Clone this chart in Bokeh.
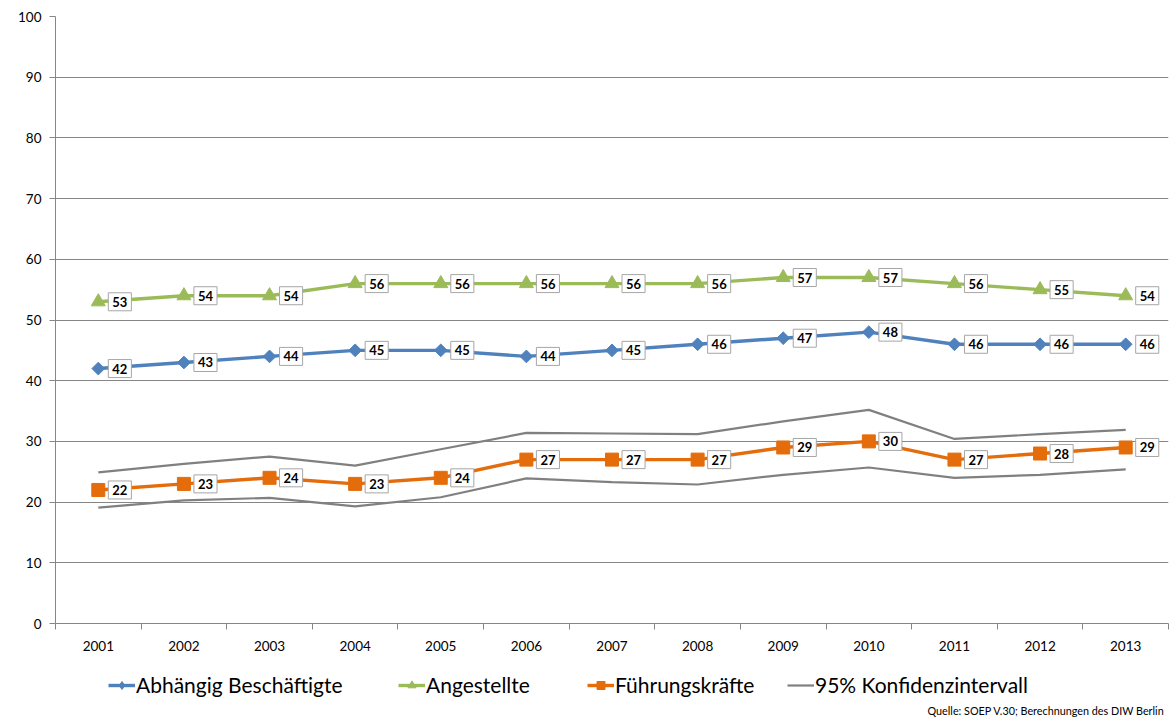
from bokeh.plotting import figure
from bokeh.layouts import column
from bokeh.models import (ColumnDataSource, Legend, LegendItem, Label,
                          FixedTicker, Range1d)
from bokeh.core.properties import value
from bokeh.embed import file_html
from bokeh.resources import INLINE

years = ["2001", "2002", "2003", "2004", "2005", "2006", "2007",
         "2008", "2009", "2010", "2011", "2012", "2013"]
abhaengig = [42, 43, 44, 45, 45, 44, 45, 46, 47, 48, 46, 46, 46]
angestellte = [53, 54, 54, 56, 56, 56, 56, 56, 57, 57, 56, 55, 54]
fuehrung = [22, 23, 24, 23, 24, 27, 27, 27, 29, 30, 27, 28, 29]
ki_upper = [24.9, 26.3, 27.5, 26.0, 28.7, 31.4, 31.3, 31.2, 33.3, 35.2, 30.4, 31.2, 31.9]
ki_lower = [19.1, 20.3, 20.7, 19.3, 20.8, 23.9, 23.3, 22.9, 24.5, 25.7, 24.0, 24.5, 25.4]
y_ticks = [0, 10, 20, 30, 40, 50, 60, 70, 80, 90, 100]
series_names = ["Abhängig Beschäftigte", "Angestellte", "Führungskräfte",
                "95% Konfidenzintervall"]
source_text = "Quelle: SOEP V.30; Berechnungen des DIW Berlin"

FONT = "Lato"
BLUE = "#4F81BD"
GREEN = "#9BBB59"
ORANGE = "#E46C0A"
GREY = "#808080"
GRID = "#868686"

idx = list(range(1, len(years) + 1))

p = figure(frame_width=1113, frame_height=607,
           x_range=Range1d(0.5, len(years) + 0.5),
           y_range=Range1d(0, 100), output_backend="svg", toolbar_location=None,
           min_border_left=55, min_border_right=5, min_border_top=16,
           min_border_bottom=35)
p.outline_line_color = None
p.background_fill_color = "white"
p.border_fill_color = "white"

# axes
p.yaxis.ticker = FixedTicker(ticks=y_ticks)
p.yaxis.major_tick_out = 6
p.yaxis.major_tick_in = 0
p.yaxis.minor_tick_out = 0
p.yaxis.minor_tick_in = 0
p.yaxis.axis_line_color = GRID
p.yaxis.major_tick_line_color = GRID
p.yaxis.major_label_text_font = FONT
p.yaxis.major_label_text_font_size = "13.5px"
p.yaxis.major_label_text_color = "black"
p.yaxis.major_label_standoff = 8

p.xaxis.ticker = FixedTicker(ticks=idx, minor_ticks=[i + 0.5 for i in range(len(years) + 1)])
p.xaxis.major_label_overrides = {i: y for i, y in zip(idx, years)}
p.xaxis.major_tick_out = 0
p.xaxis.major_tick_in = 0
p.xaxis.minor_tick_out = 6
p.xaxis.minor_tick_in = 0
p.xaxis.axis_line_color = GRID
p.xaxis.minor_tick_line_color = GRID
p.xaxis.major_label_text_font = FONT
p.xaxis.major_label_text_font_size = "13.5px"
p.xaxis.major_label_text_color = "black"
p.xaxis.major_label_standoff = 11

p.xgrid.visible = False
p.ygrid.ticker = FixedTicker(ticks=y_ticks)
p.ygrid.grid_line_color = GRID
p.ygrid.grid_line_width = 1.2


def draw_series(fig, vals, color, marker, size, angle, visible=True):
    ln = fig.line(idx, vals, line_color=color, line_width=3.4, visible=visible)
    mk = fig.scatter(idx, vals, marker=marker, angle=angle, size=size,
                     fill_color=color, line_color=color, visible=visible)
    return ln, mk


# confidence interval
p.line(idx, ki_upper, line_color=GREY, line_width=2.2)
p.line(idx, ki_lower, line_color=GREY, line_width=2.2)

# series
draw_series(p, abhaengig, BLUE, "square", 9, 0.785398)
draw_series(p, angestellte, GREEN, "triangle", 14, 0.0)
draw_series(p, fuehrung, ORANGE, "square", 13, 0.0)

for vals in (abhaengig, angestellte, fuehrung):
    src = ColumnDataSource(dict(x=idx, y=vals, t=[str(v) for v in vals]))
    p.text(x="x", y="y", text="t", source=src,
           x_offset=10, y_offset=0,
           text_align="left", text_baseline="middle",
           text_font=value(FONT), text_font_style="bold",
           text_font_size="13px", text_color="black",
           background_fill_color="white",
           border_line_color="#A6A6A6", border_line_width=1,
           padding=4)

# legend strip below the chart (hidden copies of the series feed the legend)
q = figure(frame_width=1173, frame_height=60, x_range=Range1d(0.5, len(years) + 0.5),
           y_range=Range1d(0, 100), output_backend="svg", toolbar_location=None,
           min_border_left=0, min_border_right=0, min_border_top=0,
           min_border_bottom=0)
q.axis.visible = False
q.grid.visible = False
q.outline_line_color = None
q.background_fill_color = "white"
q.border_fill_color = "white"

lb1, mb1 = draw_series(q, abhaengig, BLUE, "diamond", 15, 0.0, visible=False)
lg1, mg1 = draw_series(q, angestellte, GREEN, "triangle", 13, 0.0, visible=False)
lo1, mo1 = draw_series(q, fuehrung, ORANGE, "square", 12, 0.0, visible=False)
lc1 = q.line(idx, ki_upper, line_color=GREY, line_width=2.2, visible=False)

legend_entries = [
    (series_names[0], [lb1, mb1], 108),
    (series_names[1], [lg1, mg1], 398),
    (series_names[2], [lo1, mo1], 587),
    (series_names[3], [lc1], 787),
]
for label, rends, lx in legend_entries:
    lg = Legend(items=[LegendItem(label=label, renderers=rends)],
                location=(lx, 21), orientation="horizontal")
    lg.label_text_font = FONT
    lg.label_text_font_size = "21px"
    lg.label_text_color = "black"
    lg.glyph_width = 27
    lg.glyph_height = 20
    lg.label_standoff = 1
    lg.padding = 0
    lg.margin = 0
    lg.border_line_color = None
    lg.background_fill_alpha = 0
    lg.inactive_fill_alpha = 0
    lg.click_policy = "none"
    q.add_layout(lg)

q.add_layout(Label(x=872, y=8, x_units="screen", y_units="screen",
                   text=source_text, text_font=FONT, text_font_size="10.8px",
                   text_color="black", text_baseline="middle",
                   text_align="left"))

layout = column(p, q, spacing=0)
open("out.html", "w").write(file_html(layout, INLINE))
